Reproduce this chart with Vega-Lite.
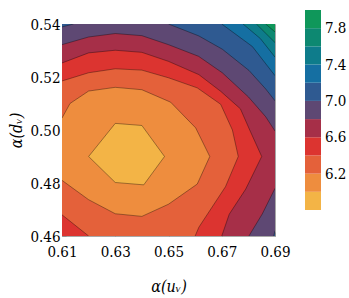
{
  "$schema": "https://vega.github.io/schema/vega-lite/v6.json",
  "width": 213,
  "height": 212,
  "autosize": "none",
  "padding": {"left": 62, "top": 24, "right": 74, "bottom": 62},
  "config": {
    "font": "DejaVu Serif Condensed, DejaVu Serif",
    "view": {"stroke": "#a8a8a8", "strokeWidth": 1},
    "axis": {"labelFont": "DejaVu Serif Condensed, DejaVu Serif", "labelFontSize": 15, "labelColor": "#000", "labelFlush": false},
    "legend": {"labelFont": "DejaVu Serif Condensed, DejaVu Serif", "labelFontSize": 15, "labelColor": "#000"}
  },
  "data": {"values": [
    {"k":"01","v":7.9,"i":0,"x":0.60,"y":0.45},{"k":"01","v":7.9,"i":1,"x":0.70,"y":0.45},{"k":"01","v":7.9,"i":2,"x":0.70,"y":0.55},{"k":"01","v":7.9,"i":3,"x":0.60,"y":0.55},
    {"k":"02","v":7.7,"i":0,"x":0.60,"y":0.45},{"k":"02","v":7.7,"i":1,"x":0.70,"y":0.45},{"k":"02","v":7.7,"i":2,"x":0.70,"y":0.537},{"k":"02","v":7.7,"i":3,"x":0.69,"y":0.537},{"k":"02","v":7.7,"i":4,"x":0.6865,"y":0.54},{"k":"02","v":7.7,"i":5,"x":0.6865,"y":0.55},{"k":"02","v":7.7,"i":6,"x":0.60,"y":0.55},
    {"k":"03","v":7.5,"i":0,"x":0.60,"y":0.45},{"k":"03","v":7.5,"i":1,"x":0.70,"y":0.45},{"k":"03","v":7.5,"i":2,"x":0.70,"y":0.533},{"k":"03","v":7.5,"i":3,"x":0.69,"y":0.533},{"k":"03","v":7.5,"i":4,"x":0.6865,"y":0.5365},{"k":"03","v":7.5,"i":5,"x":0.683,"y":0.54},{"k":"03","v":7.5,"i":6,"x":0.683,"y":0.55},{"k":"03","v":7.5,"i":7,"x":0.60,"y":0.55},
    {"k":"04","v":7.3,"i":0,"x":0.60,"y":0.45},{"k":"04","v":7.3,"i":1,"x":0.70,"y":0.45},{"k":"04","v":7.3,"i":2,"x":0.70,"y":0.5275},{"k":"04","v":7.3,"i":3,"x":0.69,"y":0.5275},{"k":"04","v":7.3,"i":4,"x":0.6845,"y":0.5345},{"k":"04","v":7.3,"i":5,"x":0.678,"y":0.54},{"k":"04","v":7.3,"i":6,"x":0.678,"y":0.55},{"k":"04","v":7.3,"i":7,"x":0.60,"y":0.55},
    {"k":"05","v":7.1,"i":0,"x":0.60,"y":0.45},{"k":"05","v":7.1,"i":1,"x":0.70,"y":0.45},{"k":"05","v":7.1,"i":2,"x":0.70,"y":0.5205},{"k":"05","v":7.1,"i":3,"x":0.69,"y":0.5205},{"k":"05","v":7.1,"i":4,"x":0.6815,"y":0.5315},{"k":"05","v":7.1,"i":5,"x":0.670,"y":0.54},{"k":"05","v":7.1,"i":6,"x":0.670,"y":0.55},{"k":"05","v":7.1,"i":7,"x":0.60,"y":0.55},
    {"k":"06","v":6.9,"i":0,"x":0.60,"y":0.45},{"k":"06","v":6.9,"i":1,"x":0.6895,"y":0.45},{"k":"06","v":6.9,"i":2,"x":0.6895,"y":0.46},{"k":"06","v":6.9,"i":3,"x":0.69,"y":0.462},{"k":"06","v":6.9,"i":4,"x":0.70,"y":0.462},{"k":"06","v":6.9,"i":5,"x":0.70,"y":0.511},{"k":"06","v":6.9,"i":6,"x":0.69,"y":0.511},{"k":"06","v":6.9,"i":7,"x":0.6865,"y":0.5155},{"k":"06","v":6.9,"i":8,"x":0.6802,"y":0.5225},{"k":"06","v":6.9,"i":9,"x":0.6702,"y":0.5305},{"k":"06","v":6.9,"i":10,"x":0.6614,"y":0.5355},{"k":"06","v":6.9,"i":11,"x":0.65,"y":0.54},{"k":"06","v":6.9,"i":12,"x":0.65,"y":0.55},{"k":"06","v":6.9,"i":13,"x":0.6143,"y":0.55},{"k":"06","v":6.9,"i":14,"x":0.6143,"y":0.54},{"k":"06","v":6.9,"i":15,"x":0.61,"y":0.5389},{"k":"06","v":6.9,"i":16,"x":0.60,"y":0.5389},
    {"k":"07","v":6.7,"i":0,"x":0.60,"y":0.45},{"k":"07","v":6.7,"i":1,"x":0.6802,"y":0.45},{"k":"07","v":6.7,"i":2,"x":0.6802,"y":0.46},{"k":"07","v":6.7,"i":3,"x":0.6852,"y":0.4683},{"k":"07","v":6.7,"i":4,"x":0.69,"y":0.478},{"k":"07","v":6.7,"i":5,"x":0.70,"y":0.478},{"k":"07","v":6.7,"i":6,"x":0.70,"y":0.4996},{"k":"07","v":6.7,"i":7,"x":0.69,"y":0.4996},{"k":"07","v":6.7,"i":8,"x":0.6865,"y":0.505},{"k":"07","v":6.7,"i":9,"x":0.680,"y":0.5125},{"k":"07","v":6.7,"i":10,"x":0.6702,"y":0.5216},{"k":"07","v":6.7,"i":11,"x":0.6613,"y":0.5278},{"k":"07","v":6.7,"i":12,"x":0.65,"y":0.5322},{"k":"07","v":6.7,"i":13,"x":0.64,"y":0.5356},{"k":"07","v":6.7,"i":14,"x":0.63,"y":0.5364},{"k":"07","v":6.7,"i":15,"x":0.62,"y":0.5351},{"k":"07","v":6.7,"i":16,"x":0.61,"y":0.5322},{"k":"07","v":6.7,"i":17,"x":0.60,"y":0.5322},
    {"k":"08","v":6.5,"i":0,"x":0.60,"y":0.45},{"k":"08","v":6.5,"i":1,"x":0.670,"y":0.45},{"k":"08","v":6.5,"i":2,"x":0.670,"y":0.46},{"k":"08","v":6.5,"i":3,"x":0.6728,"y":0.4682},{"k":"08","v":6.5,"i":4,"x":0.679,"y":0.4777},{"k":"08","v":6.5,"i":5,"x":0.685,"y":0.49},{"k":"08","v":6.5,"i":6,"x":0.6805,"y":0.50},{"k":"08","v":6.5,"i":7,"x":0.677,"y":0.508},{"k":"08","v":6.5,"i":8,"x":0.6696,"y":0.5146},{"k":"08","v":6.5,"i":9,"x":0.6614,"y":0.5209},{"k":"08","v":6.5,"i":10,"x":0.65,"y":0.5259},{"k":"08","v":6.5,"i":11,"x":0.64,"y":0.5293},{"k":"08","v":6.5,"i":12,"x":0.63,"y":0.5301},{"k":"08","v":6.5,"i":13,"x":0.62,"y":0.5291},{"k":"08","v":6.5,"i":14,"x":0.61,"y":0.5253},{"k":"08","v":6.5,"i":15,"x":0.60,"y":0.5253},
    {"k":"09","v":6.3,"i":0,"x":0.62,"y":0.45},{"k":"09","v":6.3,"i":1,"x":0.66,"y":0.45},{"k":"09","v":6.3,"i":2,"x":0.66,"y":0.46},{"k":"09","v":6.3,"i":3,"x":0.6614,"y":0.4633},{"k":"09","v":6.3,"i":4,"x":0.6714,"y":0.4786},{"k":"09","v":6.3,"i":5,"x":0.6762,"y":0.49},{"k":"09","v":6.3,"i":6,"x":0.674,"y":0.50},{"k":"09","v":6.3,"i":7,"x":0.6696,"y":0.5097},{"k":"09","v":6.3,"i":8,"x":0.6608,"y":0.5159},{"k":"09","v":6.3,"i":9,"x":0.65,"y":0.5197},{"k":"09","v":6.3,"i":10,"x":0.64,"y":0.5226},{"k":"09","v":6.3,"i":11,"x":0.63,"y":0.5231},{"k":"09","v":6.3,"i":12,"x":0.62,"y":0.5216},{"k":"09","v":6.3,"i":13,"x":0.61,"y":0.5185},{"k":"09","v":6.3,"i":14,"x":0.60,"y":0.5185},{"k":"09","v":6.3,"i":15,"x":0.60,"y":0.468},{"k":"09","v":6.3,"i":16,"x":0.61,"y":0.468},{"k":"09","v":6.3,"i":17,"x":0.62,"y":0.46},
    {"k":"10","v":6.1,"i":0,"x":0.60,"y":0.481},{"k":"10","v":6.1,"i":1,"x":0.61,"y":0.481},{"k":"10","v":6.1,"i":2,"x":0.62,"y":0.4737},{"k":"10","v":6.1,"i":3,"x":0.63,"y":0.4684},{"k":"10","v":6.1,"i":4,"x":0.64,"y":0.4674},{"k":"10","v":6.1,"i":5,"x":0.650,"y":0.472},{"k":"10","v":6.1,"i":6,"x":0.6608,"y":0.4796},{"k":"10","v":6.1,"i":7,"x":0.6655,"y":0.49},{"k":"10","v":6.1,"i":8,"x":0.6602,"y":0.5008},{"k":"10","v":6.1,"i":9,"x":0.6508,"y":0.5105},{"k":"10","v":6.1,"i":10,"x":0.64,"y":0.5152},{"k":"10","v":6.1,"i":11,"x":0.63,"y":0.5161},{"k":"10","v":6.1,"i":12,"x":0.62,"y":0.5147},{"k":"10","v":6.1,"i":13,"x":0.613,"y":0.51},{"k":"10","v":6.1,"i":14,"x":0.61,"y":0.5045},{"k":"10","v":6.1,"i":15,"x":0.60,"y":0.5045},
    {"k":"11","v":5.9,"i":0,"x":0.62,"y":0.49},{"k":"11","v":5.9,"i":1,"x":0.63,"y":0.5025},{"k":"11","v":5.9,"i":2,"x":0.64,"y":0.5017},{"k":"11","v":5.9,"i":3,"x":0.6485,"y":0.49},{"k":"11","v":5.9,"i":4,"x":0.6407,"y":0.4793},{"k":"11","v":5.9,"i":5,"x":0.63,"y":0.4802},{"k":"11","v":5.9,"i":6,"x":0.62,"y":0.49}
  ]},
  "mark": {"type": "line", "clip": true, "stroke": "#000000", "strokeOpacity": 0.5, "strokeWidth": 0.7, "strokeJoin": "round"},
  "encoding": {
    "x": {"field": "x", "type": "quantitative",
      "scale": {"domain": [0.61, 0.69], "nice": false, "zero": false},
      "axis": {"values": [0.61, 0.63, 0.65, 0.67, 0.69], "format": ".2f", "title": "α(uᵥ)",
        "grid": false, "domain": false, "ticks": true, "tickSize": -4, "tickColor": "#8c8c8c", "tickWidth": 0.8,
        "labelPadding": 12, "labelFlush": false,
        "labelFont": "DejaVu Serif Condensed, DejaVu Serif", "labelFontSize": 15, "labelColor": "#000",
        "titleFont": "DejaVu Serif Condensed, DejaVu Serif", "titleFontStyle": "italic", "titleFontWeight": "normal", "titleFontSize": 16, "titleColor": "#000", "titlePadding": 19}},
    "y": {"field": "y", "type": "quantitative",
      "scale": {"domain": [0.46, 0.54], "nice": false, "zero": false},
      "axis": {"values": [0.46, 0.48, 0.50, 0.52, 0.54], "format": ".2f", "title": "α(dᵥ)",
        "grid": false, "domain": false, "ticks": true, "tickSize": -4, "tickColor": "#8c8c8c", "tickWidth": 0.8,
        "labelPadding": 6, "labelFlush": false,
        "labelFont": "DejaVu Serif Condensed, DejaVu Serif", "labelFontSize": 15, "labelColor": "#000",
        "titleFont": "DejaVu Serif Condensed, DejaVu Serif", "titleFontStyle": "italic", "titleFontWeight": "normal", "titleFontSize": 16, "titleColor": "#000", "titlePadding": 5}},
    "fill": {"field": "v", "type": "quantitative",
      "scale": {"type": "quantize", "domain": [5.8, 8.0], "nice": false, "zero": false,
        "range": ["#F3B446", "#EE8D3E", "#E4613A", "#DC3430", "#A62F48", "#5E4873", "#2F5A91", "#156FA2", "#0E7C8B", "#0D8871", "#0F975A"]},
      "legend": {"orient": "none", "legendX": 243, "legendY": -14, "title": null, "direction": "vertical",
        "gradientLength": 247, "gradientThickness": 17, "gradientStrokeWidth": 0,
        "format": ".1f", "labelOverlap": false,
        "labelExpr": "indexof(['6.2','6.6','7.0','7.4','7.8'], datum.label) >= 0 ? datum.label : ''",
        "labelFont": "DejaVu Serif Condensed, DejaVu Serif", "labelFontSize": 15, "labelColor": "#000", "labelOffset": 4}},
    "detail": {"field": "k", "type": "nominal"},
    "order": {"field": "i", "type": "quantitative"}
  }
}
